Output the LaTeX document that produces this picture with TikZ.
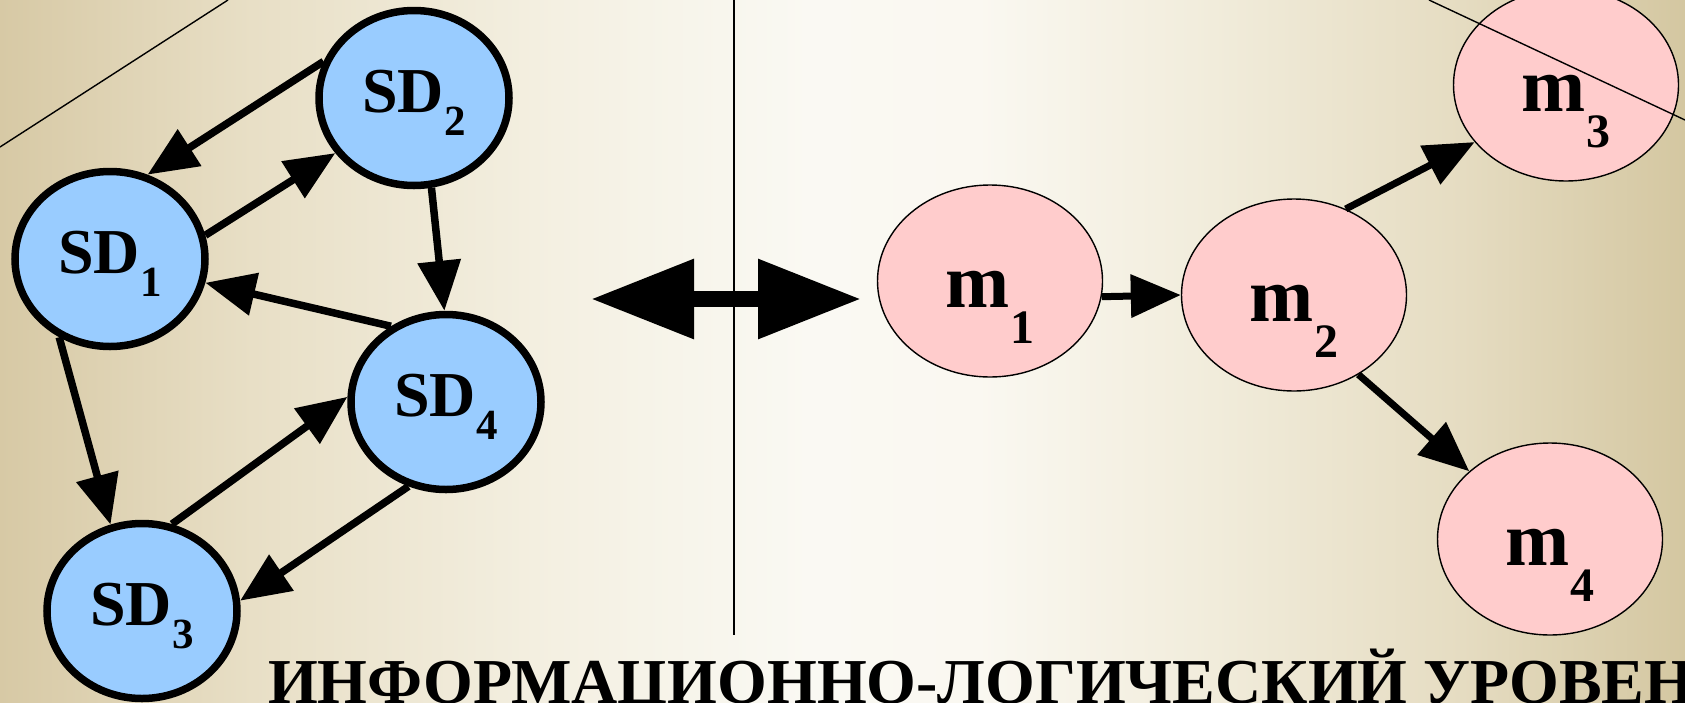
\documentclass[tikz,border=0pt]{standalone}
\usepackage{fontspec}
\setmainfont{Liberation Serif}
\usetikzlibrary{arrows.meta,shapes.geometric}

\definecolor{sdblue}{HTML}{99CCFF}
\definecolor{mpink}{HTML}{FFCCCC}
\definecolor{bga}{HTML}{D7C9A5}
\definecolor{bgb}{HTML}{E8DFC6}
\definecolor{bgc}{HTML}{F4F0E2}
\definecolor{bgd}{HTML}{FAF9F3}
\definecolor{bge}{HTML}{FAF8F1}
\definecolor{bgf}{HTML}{F1ECDB}
\definecolor{bgg}{HTML}{E6DDC3}
\definecolor{bgh}{HTML}{D4C7A1}

% paper tone: tan at both sides, almost white in the middle
\pgfdeclarehorizontalshading{paper}{100bp}{%
  color(0bp)=(bga); color(25bp)=(bga); color(32.5bp)=(bgb); color(41.5bp)=(bgc);
  color(49bp)=(bgd); color(54bp)=(bge); color(61bp)=(bgf); color(68bp)=(bgg);
  color(75bp)=(bgh); color(100bp)=(bgh)}

\newcommand\sdtag[1]{{\fontsize{64}{64}\selectfont\bfseries SD}\raisebox{-23pt}{\fontsize{43}{43}\selectfont\bfseries #1}}
\newcommand\mtag[1]{{\fontsize{77}{77}\selectfont\bfseries m}\raisebox{-36pt}{\fontsize{48}{48}\selectfont\bfseries #1}}

\begin{document}
\begin{tikzpicture}[x=1pt,y=-1pt,
  sdnode/.style={ellipse, draw=black, line width=7.5pt, fill=sdblue,
    minimum width=190pt, minimum height=175pt, inner sep=0pt,
    text height=52pt, text depth=23pt},
  mnode/.style={ellipse, draw=black, line width=1.4pt, fill=mpink,
    minimum width=225pt, minimum height=192pt, inner sep=0pt,
    text height=88pt, text depth=36pt},
  link/.style={line width=7.5pt, -{Triangle[length=50pt,width=42pt]}},
  rlink/.style={line width=7pt, -{Triangle[length=50pt,width=42pt]}},
  hairline/.style={line width=1.4pt},
  twoway/.style={line width=16pt,
    {Triangle[length=103pt,width=76pt]}-{Triangle[length=103pt,width=76pt]}}
]
\useasboundingbox (0,0) rectangle (1685,702);
\clip (0,0) rectangle (1685,702);
\shade[shading=paper] (0,0) rectangle (1685,702);

% upper-left corner rule
\coordinate (ula) at (0,147);
\coordinate (ulb) at (228,0);
\draw[hairline] (ula) -- (ulb);

% data-flow graph
\node[sdnode] (sd1) at (110,259) {\sdtag{1}};
\node[sdnode] (sd2) at (414,98) {\sdtag{2}};
\node[sdnode] (sd4) at (446,402) {\sdtag{4}};
\node[sdnode] (sd3) at (142,611) {\sdtag{3}};

\draw[link] (sd2.158) -- (sd1.66);
\draw[link] (sd1.14) -- (sd2.215);
\draw[link] (sd2.281) -- (sd4.91);
\draw[link] (sd4.126) -- (sd1.346);
\draw[link] (sd1.237) -- (sd3.110);
\draw[link] (sd3.71) -- (sd4.177);
\draw[link] (sd4.246) -- (sd3.6);

% correspondence arrow and divider
\coordinate (dl) at (591,299);
\coordinate (dr) at (861,299);
\draw[twoway] (dl) -- (dr);
\coordinate (vt) at (734,0);
\coordinate (vb) at (734,635);
\draw[hairline] (vt) -- (vb);

% module graph
\node[mnode] (m1) at (990,281) {\mtag{1}};
\node[mnode] (m2) at (1294,295) {\mtag{2}};
\node[mnode] (m3) at (1566,85) {\mtag{3}};
\node[mnode] (m4) at (1550,539) {\mtag{4}};

\draw[rlink] (m1.-8) -- (m2.west);
\draw[rlink] (m2.59) -- (m3.212);
\draw[rlink] (m2.309) -- (m4.140);

% upper-right corner rule
\coordinate (ura) at (1429,0);
\coordinate (urb) at (1685,120);
\draw[hairline] (ura) -- (urb);

% level caption
\node[anchor=base west, inner sep=0pt] (title) at (268,703)
  {\fontsize{64}{64}\selectfont\bfseries ИНФОРМАЦИОННО-ЛОГИЧЕСКИЙ УРОВЕН};
\end{tikzpicture}
\end{document}
